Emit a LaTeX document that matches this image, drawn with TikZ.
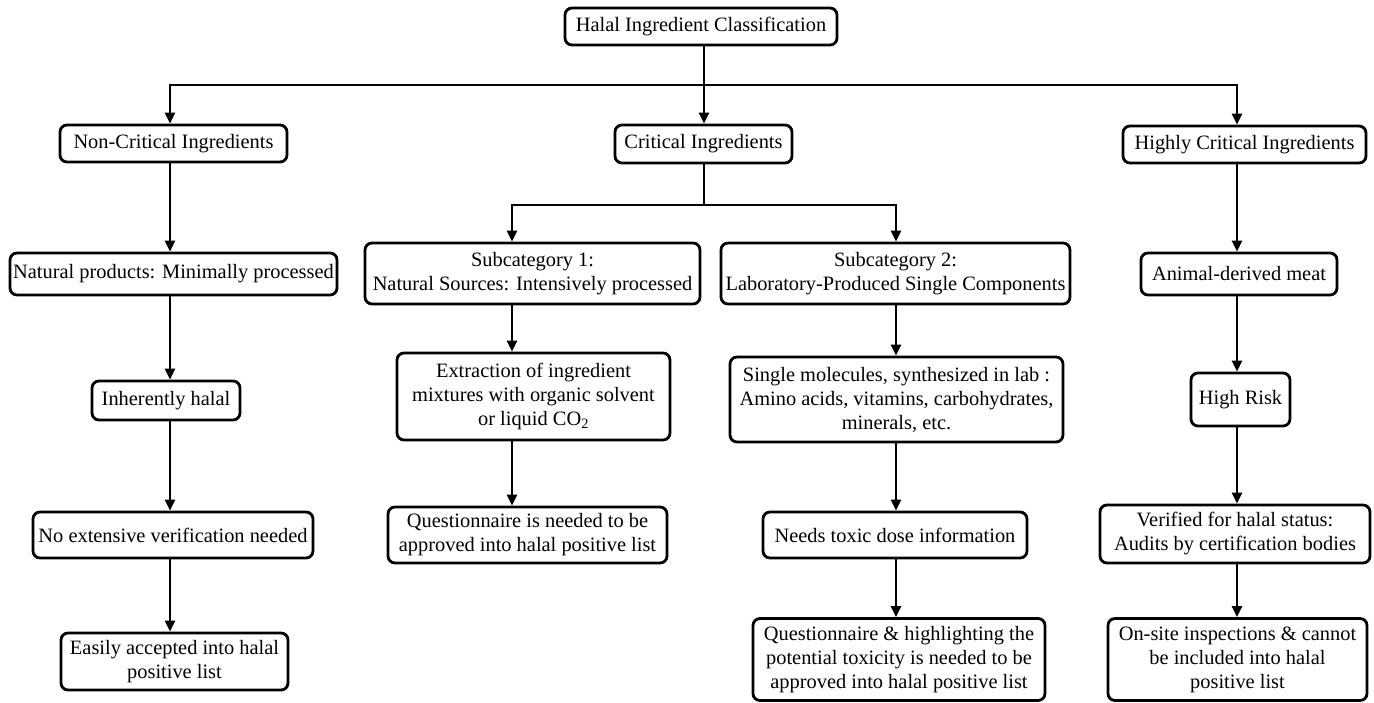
\documentclass[tikz,border=0pt]{standalone}
\usepackage{fontspec}
\setmainfont{Liberation Serif}
\usepackage{tikz}
\usetikzlibrary{arrows.meta}

\tikzset{
  box/.style={draw, line width=2.8pt, rounded corners=7pt, fill=white,
    align=center, inner sep=0pt, font=\fontsize{20.4}{24}\selectfont},
  arr/.style={line width=2.6pt, -{Triangle[length=11pt, width=10pt]}},
  conn/.style={line width=2.6pt}
}

\begin{document}
\begin{tikzpicture}[x=1pt, y=-1pt]
    \useasboundingbox (0, 0) rectangle (1374, 702);

    % columns and bars
    \coordinate (colA) at (170, 0);
    \coordinate (colB) at (512, 0);
    \coordinate (colC) at (704, 0);
    \coordinate (colD) at (896, 0);
    \coordinate (colE) at (1237, 0);
    \coordinate (bar) at (0, 85);
    \coordinate (subbar) at (0, 205);

    % top
    \node[box, minimum width=272pt, minimum height=37pt](root) at (701, 26.5)
      {Halal Ingredient Classification};

    % categories
    \node[box, minimum width=227pt, minimum height=37pt](noncrit) at (173.5, 143.5)
      {Non-Critical Ingredients};
    \node[box, minimum width=177pt, minimum height=38pt](crit) at (703.5, 144)
      {Critical Ingredients};
    \node[box, minimum width=243pt, minimum height=37pt](hcrit) at (1244.5, 144.5)
      {Highly Critical Ingredients};

    % non-critical
    \node[box, minimum width=327pt, minimum height=42pt](natprod) at (173.5, 274)
      {Natural products: Minimally processed};
    \node[box, minimum width=148pt, minimum height=39pt](inher) at (166, 400.5)
      {Inherently halal};
    \node[box, minimum width=280pt, minimum height=46pt](noext) at (173, 535)
      {No extensive verification needed};
    \node[box, minimum width=227pt, minimum height=57pt](easy) at (174.5, 661.5)
      {Easily accepted into halal\\positive list};

    % critical, subcategory 1
    \node[box, minimum width=335pt, minimum height=61pt](sub1) at (532.5, 273.5)
      {Subcategory 1:\\Natural Sources: Intensively processed};
    \node[box, minimum width=273pt, minimum height=87pt](extract) at (533.5, 396.5)
      {Extraction of ingredient\\mixtures with organic solvent\\or liquid CO\textsubscript{2}};
    \node[box, minimum width=279pt, minimum height=56pt](quest1) at (527.5, 535)
      {Questionnaire is needed to be\\approved into halal positive list};

    % critical, subcategory 2
    \node[box, minimum width=349pt, minimum height=61pt](sub2) at (895.5, 273.5)
      {Subcategory 2:\\Laboratory-Produced Single Components};
    \node[box, minimum width=333pt, minimum height=85pt](single) at (896.5, 399.5)
      {Single molecules, synthesized in lab :\\Amino acids, vitamins, carbohydrates,\\minerals, etc.};
    \node[box, minimum width=264pt, minimum height=46pt](toxic) at (895, 535)
      {Needs toxic dose information};
    \node[box, minimum width=292pt, minimum height=82pt](quest2) at (899, 659.5)
      {Questionnaire \& highlighting the\\potential toxicity is needed to be\\approved into halal positive list};

    % highly critical
    \node[box, minimum width=196pt, minimum height=42pt](animal) at (1239, 274)
      {Animal-derived meat};
    \node[box, minimum width=99pt, minimum height=53pt](risk) at (1240.5, 399.5)
      {High Risk};
    \node[box, minimum width=270pt, minimum height=58pt](verif) at (1235, 534)
      {Verified for halal status:\\Audits by certification bodies};
    \node[box, minimum width=259pt, minimum height=82pt](onsite) at (1237.5, 659.5)
      {On-site inspections \& cannot\\be included into halal\\positive list};

    % top connectors
    \draw[arr] (root.south -| colC) -- (crit.north -| colC);
    \draw[arr] (bar -| colC) -| (noncrit.north -| colA);
    \draw[arr] (bar -| colC) -| (hcrit.north -| colE);

    % critical split
    \draw[conn] (crit.south -| colC) -- (subbar -| colC);
    \draw[arr] (subbar -| colC) -| (sub1.north -| colB);
    \draw[arr] (subbar -| colC) -| (sub2.north -| colD);

    % non-critical chain
    \draw[arr] (noncrit.south -| colA) -- (natprod.north -| colA);
    \draw[arr] (natprod.south -| colA) -- (inher.north -| colA);
    \draw[arr] (inher.south -| colA) -- (noext.north -| colA);
    \draw[arr] (noext.south -| colA) -- (easy.north -| colA);

    % subcategory chains
    \draw[arr] (sub1.south -| colB) -- (extract.north -| colB);
    \draw[arr] (extract.south -| colB) -- (quest1.north -| colB);
    \draw[arr] (sub2.south -| colD) -- (single.north -| colD);
    \draw[arr] (single.south -| colD) -- (toxic.north -| colD);
    \draw[arr] (toxic.south -| colD) -- (quest2.north -| colD);

    % highly critical chain
    \draw[arr] (hcrit.south -| colE) -- (animal.north -| colE);
    \draw[arr] (animal.south -| colE) -- (risk.north -| colE);
    \draw[arr] (risk.south -| colE) -- (verif.north -| colE);
    \draw[arr] (verif.south -| colE) -- (onsite.north -| colE);
  \end{tikzpicture}
\end{document}
